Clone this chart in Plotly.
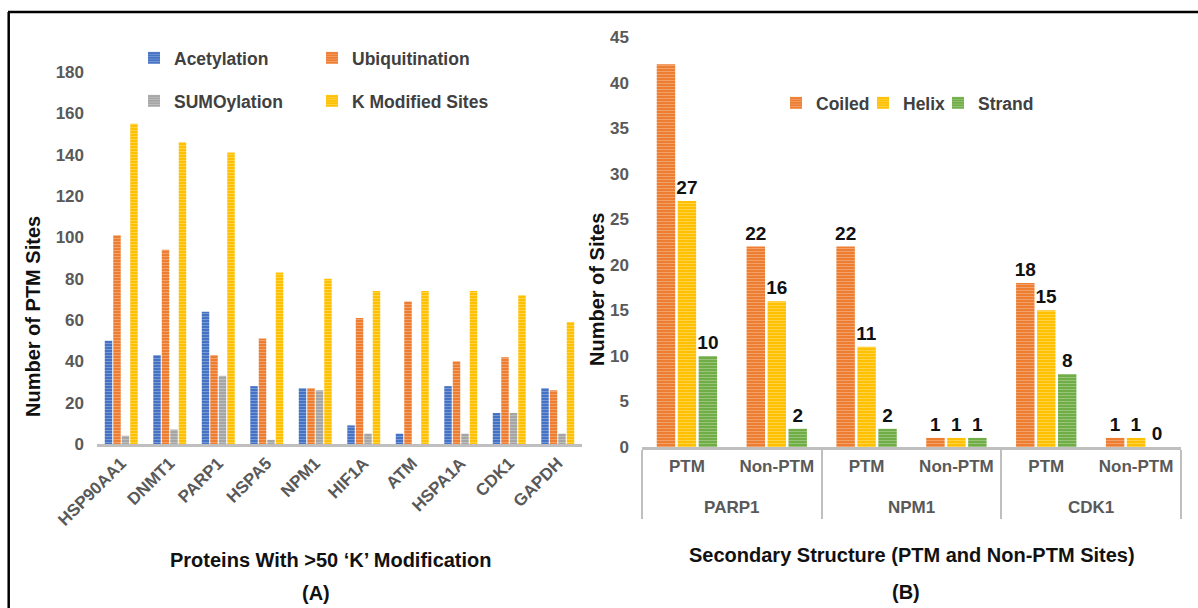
import plotly.graph_objects as go

W, H = 1198, 608

# Panel A: PTM sites per protein
proteins = ["HSP90AA1", "DNMT1", "PARP1", "HSPA5", "NPM1",
            "HIF1A", "ATM", "HSPA1A", "CDK1", "GAPDH"]
acetylation = [50, 43, 64, 28, 27, 9, 5, 28, 15, 27]
ubiquitination = [101, 94, 43, 51, 27, 61, 69, 40, 42, 26]
sumoylation = [4, 7, 33, 2, 26, 5, 0, 5, 15, 5]
k_modified = [155, 146, 141, 83, 80, 74, 74, 74, 72, 59]

# Panel B: secondary structure of PTM / non-PTM sites
groups_b = ["PARP1", "PARP1", "NPM1", "NPM1", "CDK1", "CDK1"]
site_types = ["PTM", "Non-PTM", "PTM", "Non-PTM", "PTM", "Non-PTM"]
coiled = [42, 22, 22, 1, 18, 1]
helix = [27, 16, 11, 1, 15, 1]
strand = [10, 2, 2, 1, 8, 0]
hidden_labels = {("Coiled", 0)}  # label over the tallest bar is not printed

FONT = "Liberation Sans, Arial, sans-serif"
TICK_FONT = dict(family=FONT, size=17, color="#595959", weight="bold")
AXIS_GREY = "#bfbfbf"


def px(x):
    return x / W


def py(y):
    return (H - y) / H


def stripes():
    return dict(shape="-", fgcolor="white", fgopacity=0.28, size=3, solidity=0.35)


fig = go.Figure()

series_a = [
    ("Acetylation", acetylation, "#4472C4", "legend"),
    ("Ubiquitination", ubiquitination, "#ED7D31", "legend2"),
    ("SUMOylation", sumoylation, "#A5A5A5", "legend3"),
    ("K Modified Sites", k_modified, "#FFC000", "legend4"),
]
for name, vals, color, leg in series_a:
    fig.add_trace(go.Bar(
        x=proteins, y=vals, name=name, legend=leg,
        marker=dict(color=color, line_width=0, pattern=stripes()),
        xaxis="x", yaxis="y",
    ))

# protein names sit on a second line below the PTM / Non-PTM row
group_labels = ["\u00a0<br>" + g for g in groups_b]

series_b = [
    ("Coiled", coiled, "#ED7D31", "legend5"),
    ("Helix", helix, "#FFC000", "legend6"),
    ("Strand", strand, "#70AD47", "legend7"),
]
for name, vals, color, leg in series_b:
    labels = ["" if (name, i) in hidden_labels else str(v) for i, v in enumerate(vals)]
    fig.add_trace(go.Bar(
        x=[group_labels, site_types], y=vals, name=name, legend=leg,
        marker=dict(color=color, line_width=0, pattern=stripes()),
        text=labels, textposition="outside", cliponaxis=False,
        constraintext="none",
        textfont=dict(family=FONT, size=19, color="#111111", weight="bold"),
        xaxis="x2", yaxis="y2",
    ))

legend_font = dict(family=FONT, size=17.5, color="#404040", weight="bold")


def legend_at(x, y):
    return dict(orientation="h", x=px(x), y=py(y), xanchor="left", yanchor="middle",
                font=legend_font, bgcolor="rgba(0,0,0,0)", traceorder="normal",
                borderwidth=0)


fig.update_layout(
    width=W, height=H,
    margin=dict(l=0, r=0, t=0, b=0, autoexpand=False),
    paper_bgcolor="white", plot_bgcolor="white",
    barmode="group", bargap=0.3, bargroupgap=0.12,
    xaxis=dict(domain=[px(97), px(582)], anchor="y", showline=True,
               linecolor=AXIS_GREY, linewidth=2.5, tickangle=-45,
               tickfont=TICK_FONT, ticks="", showgrid=False, automargin=False),
    yaxis=dict(domain=[py(444), py(72)], anchor="x", range=[0, 180], dtick=20,
               showgrid=False, zeroline=False, showline=False, ticks="",
               tickfont=TICK_FONT, ticklabelstandoff=12, automargin=False),
    xaxis2=dict(domain=[px(642), px(1181)], anchor="y2", type="multicategory",
                showline=True, linecolor=AXIS_GREY, linewidth=2.5,
                showdividers=True, dividercolor=AXIS_GREY, dividerwidth=2,
                tickfont=TICK_FONT, ticks="", showgrid=False,
                ticklabelstandoff=2, automargin=False),
    yaxis2=dict(domain=[py(447), py(37)], anchor="x2", range=[0, 45], dtick=5,
                showgrid=False, zeroline=False, showline=False, ticks="",
                tickfont=TICK_FONT, ticklabelstandoff=12, automargin=False),
    legend=legend_at(134, 58),
    legend2=legend_at(312, 58),
    legend3=legend_at(134, 101),
    legend4=legend_at(312, 101),
    legend5=legend_at(776, 103),
    legend6=legend_at(863, 103),
    legend7=legend_at(938, 103),
    showlegend=True,
)

title_font = dict(family=FONT, size=20, color="#111111", weight="bold")
annotations = [
    dict(text="Number of PTM Sites", x=px(33), y=py(317), textangle=-90),
    dict(text="Proteins With >50 \u2018K\u2019 Modification", x=px(331), y=py(560)),
    dict(text="(A)", x=px(316), y=py(593)),
    dict(text="Number of Sites", x=px(597), y=py(290), textangle=-90),
    dict(text="Secondary Structure (PTM and Non-PTM Sites)", x=px(912), y=py(555)),
    dict(text="(B)", x=px(906), y=py(592)),
]
for a in annotations:
    fig.add_annotation(xref="paper", yref="paper", showarrow=False,
                       xanchor="center", yanchor="middle", font=title_font, **a)

# figure frame (top and left edges)
frame = dict(color="black", width=2.5)
fig.add_shape(type="line", xref="paper", yref="paper",
              x0=px(8), x1=1, y0=py(12), y1=py(12), line=frame)
fig.add_shape(type="line", xref="paper", yref="paper",
              x0=px(8.7), x1=px(8.7), y0=py(12), y1=0, line=frame)

fig.write_html("out.html")
